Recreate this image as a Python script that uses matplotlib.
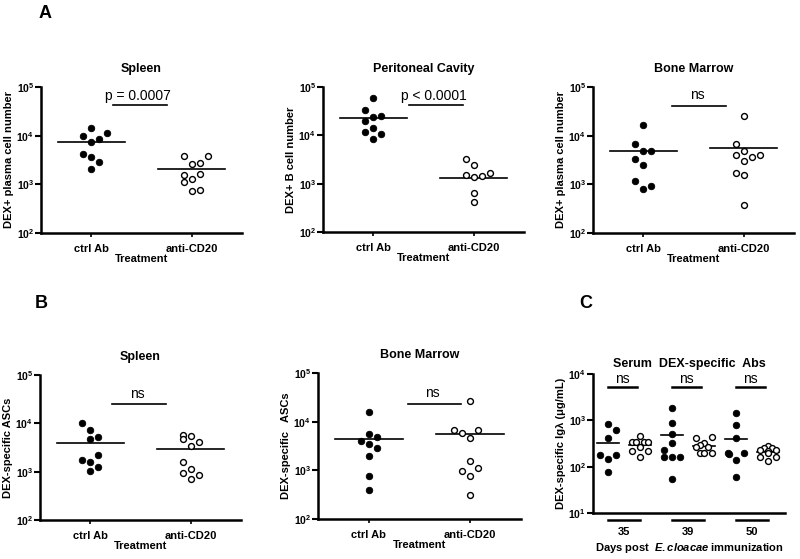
import matplotlib
matplotlib.use("Agg")
import numpy as np
import matplotlib.pyplot as plt
import matplotlib.ticker as mticker
import matplotlib.transforms as mtransforms

plt.rcParams['font.family'] = ['Liberation Sans', 'DejaVu Sans']
plt.rcParams['mathtext.fontset'] = 'custom'
plt.rcParams['mathtext.bf'] = 'Liberation Sans:bold'
plt.rcParams['mathtext.rm'] = 'Liberation Sans:bold'
plt.rcParams['mathtext.it'] = 'Liberation Sans:bold:italic'

groups = ['ctrl Ab', 'anti-CD20']

# A, spleen
a_spl_ctrl = [14400, 9700, 8700, 11200, 7500, 4300, 3700, 2900, 2100]
a_spl_ctrl_dx = [0, -1, 1, 2, 0, -1, 0, 1, 0]
a_spl_anti = [3800, 3900, 2600, 2800, 1530, 1610, 1290, 1120, 730, 780]
a_spl_anti_dx = [-1, 2, 0, 1, -1, 1, 0, -1, 0, 1]
a_spl_mean = [7400, 2040]

# A, peritoneal cavity
a_per_ctrl = [60100, 32900, 24300, 25100, 19800, 14200, 11700, 10800, 8530]
a_per_ctrl_dx = [0, -1, 0, 1, -1, 0, -1, 1, 0]
a_per_anti = [3180, 2470, 1490, 1400, 1440, 1690, 650, 410]
a_per_anti_dx = [-1, 0, -1, 0, 1, 2, 0, 0]
a_per_mean = [23200, 1290]

# A, bone marrow
a_bm_ctrl = [16900, 6730, 4740, 4820, 3340, 2510, 1190, 790, 925]
a_bm_ctrl_dx = [0, -1, 0, 1, -1, 0, -1, 0, 1]
a_bm_anti = [25100, 6730, 4890, 3920, 3570, 3980, 2950, 1690, 1560, 373]
a_bm_anti_dx = [0, -1, 0, -1, 1, 2, 0, -1, 0, 0]
a_bm_mean = [4740, 5470]

# B, spleen
b_spl_ctrl = [10000, 7280, 4740, 5210, 2250, 1710, 1590, 1250, 1020]
b_spl_ctrl_dx = [-1, 0, 0, 1, 1, -1, 0, 1, 0]
b_spl_anti = [5650, 4670, 5560, 3400, 4170, 1585, 1120, 925, 867, 705]
b_spl_anti_dx = [-1, -1, 0, 0, 1, -1, 0, -1, 1, 0]
b_spl_mean = [3980, 2900]

# B, bone marrow
b_bm_ctrl = [15800, 5660, 4920, 3940, 3480, 2920, 1940, 777, 394]
b_bm_ctrl_dx = [0, 0, 1, -1, 0, 1, 0, 0, 0]
b_bm_anti = [26600, 6850, 5950, 6850, 4620, 1580, 953, 1100, 777, 316]
b_bm_anti_dx = [0, -2, -1, 1, 0, 0, -1, 1, 0, 0]
b_bm_mean = [4480, 5660]

# C, serum
c_days = ['35', '39', '50']
c_ctrl = [[837, 620, 409, 178, 178, 148, 75],
          [1830, 865, 499, 318, 228, 165, 165, 165, 53],
          [1470, 782, 409, 200, 185, 200, 138, 60]]
c_ctrl_dx = [[0, 1, 0, -1, 1, 0, 0],
             [0, 0, 0, 0, -1, -1, 0, 1, 0],
             [0, 0, 0, -1, -0.8, 1, 0, 0]]
c_anti = [[467, 334, 334, 334, 334, 270, 218, 218, 164],
          [422, 443, 329, 290, 270, 260, 200, 200, 194],
          [280, 250, 250, 230, 225, 215, 200, 160, 160, 130]]
c_anti_dx = [[0, -1, -0.5, 0.5, 1, 0, -1, 1, 0],
             [-1, 1, 0, -0.5, 0.5, -1, -0.5, 1, 0],
             [0, -0.5, 0.5, -1, 1, 0, 0, -1, 1, 0]]
c_ctrl_mean = [318, 474, 402]
c_anti_mean = [295, 279, 209]

W, H = 800, 559
fig = plt.figure(figsize=(W / 100, H / 100), dpi=100)


def box(l, t, r, b):
    return [l / W, 1 - b / H, (r - l) / W, (b - t) / H]


def dec_fmt(v, pos):
    return r'$\mathbf{10^{%d}}$' % round(np.log10(v))


def style(ax, lo, hi):
    ax.set_yscale('log')
    ax.set_ylim(lo, hi)
    for s in ['top', 'right']:
        ax.spines[s].set_visible(False)
    for s in ['left', 'bottom']:
        ax.spines[s].set_linewidth(1.8)
    ax.yaxis.set_major_locator(mticker.LogLocator(base=10, numticks=10))
    ax.yaxis.set_minor_locator(mticker.NullLocator())
    ax.yaxis.set_major_formatter(mticker.FuncFormatter(dec_fmt))
    ax.tick_params(axis='y', length=4, width=1.5, labelsize=7.5, pad=1)
    ax.tick_params(axis='x', length=3, width=1.2, labelsize=8, pad=5)


def dot_panel(rect, ctrl, ctrl_dx, anti, anti_dx, means, title, ylabel,
              note, nx0, nx1, ny, lift):
    ax = fig.add_axes(box(*rect))
    step = 0.08
    ax.scatter([0 + d * step for d in ctrl_dx], ctrl, s=22, c='black',
               edgecolors='black', linewidths=0.6, zorder=3, clip_on=False)
    ax.scatter([1 + d * step for d in anti_dx], anti, s=18, c='white',
               edgecolors='black', linewidths=1.0, zorder=3, clip_on=False)
    for i, m in enumerate(means):
        ax.plot([i - 0.335, i + 0.335], [m, m], color='black', lw=1.2, zorder=2)
    ax.plot([nx0, nx1], [ny, ny], color='black', lw=1.2)
    ax.text((nx0 + nx1) / 2 - 0.02, ny * lift, note, ha='center', va='baseline',
            fontsize=10)
    ax.set_xlim(-0.5, 1.5)
    style(ax, 1e2, 1e5)
    ax.set_xticks([0, 1])
    ax.set_xticklabels(groups, fontweight='bold')
    ax.set_xlabel('Treatment', fontsize=8, fontweight='bold', labelpad=0)
    ax.set_ylabel(ylabel, fontsize=8, fontweight='bold', labelpad=2)
    ax.set_title(title, fontsize=9, fontweight='bold', pad=11)
    return ax


dot_panel((41, 87, 242, 233), a_spl_ctrl, a_spl_ctrl_dx, a_spl_anti, a_spl_anti_dx,
          a_spl_mean, 'Spleen', 'DEX+ plasma cell number', 'p = 0.0007',
          0.215, 0.755, 41700, 1.27)
dot_panel((323, 87, 524, 232), a_per_ctrl, a_per_ctrl_dx, a_per_anti, a_per_anti_dx,
          a_per_mean, 'Peritoneal Cavity', 'DEX+ B cell number', 'p < 0.0001',
          0.355, 0.895, 41700, 1.27)
dot_panel((593, 87, 794, 233), a_bm_ctrl, a_bm_ctrl_dx, a_bm_anti, a_bm_anti_dx,
          a_bm_mean, 'Bone Marrow', 'DEX+ plasma cell number', 'ns',
          0.285, 0.825, 40500, 1.37)
dot_panel((40, 375, 241, 520), b_spl_ctrl, b_spl_ctrl_dx, b_spl_anti, b_spl_anti_dx,
          b_spl_mean, 'Spleen', 'DEX-specific ASCs', 'ns',
          0.218, 0.752, 24700, 1.37)
dot_panel((318, 373, 521, 519), b_bm_ctrl, b_bm_ctrl_dx, b_bm_anti, b_bm_anti_dx,
          b_bm_mean, 'Bone Marrow', 'DEX-specific   ASCs', 'ns',
          0.384, 0.912, 23100, 1.37)

# panel C
ax = fig.add_axes(box(593, 374, 785, 513))
cstep = 0.25
trans = mtransforms.blended_transform_factory(ax.transData, ax.transAxes)
for g in range(3):
    xc = 2 * g
    ax.scatter([xc + d * cstep for d in c_ctrl_dx[g]], c_ctrl[g], s=22, c='black',
               edgecolors='black', linewidths=0.6, zorder=3)
    ax.scatter([xc + 1 + d * cstep for d in c_anti_dx[g]], c_anti[g], s=18,
               c='white', edgecolors='black', linewidths=1.0, zorder=3)
    ax.plot([xc - 0.35, xc + 0.35], [c_ctrl_mean[g]] * 2, color='black', lw=1.2)
    ax.plot([xc + 1 - 0.35, xc + 1 + 0.35], [c_anti_mean[g]] * 2, color='black', lw=1.2)
    ax.plot([xc, xc + 0.9], [5250, 5250], color='black', lw=1.8)
    ax.text(xc + 0.45, 5250 * 1.2, 'ns', ha='center', va='baseline', fontsize=10)
    ax.plot([xc, xc + 1], [-0.05, -0.05], color='black', lw=1.8,
            transform=trans, clip_on=False)
ax.set_xlim(-0.46, 5.54)
style(ax, 1e1, 1e4)
ax.set_xticks([0.5, 2.5, 4.5])
ax.set_xticklabels(c_days, fontweight='bold')
ax.tick_params(axis='x', length=0, pad=10)
ax.set_xlabel(r'Days post  $\it{E.cloacae}$ immunization', fontsize=8,
              fontweight='bold', labelpad=3)
ax.set_ylabel('DEX-specific Ig\u03bb (\u03bcg/mL)', fontsize=8, fontweight='bold',
              labelpad=2)
ax.set_title('Serum  DEX-specific  Abs', fontsize=9, fontweight='bold', pad=5)

fig.text(45 / W, 1 - 14 / H, 'A', fontsize=13, fontweight='bold', ha='center', va='center')
fig.text(41 / W, 1 - 303 / H, 'B', fontsize=13, fontweight='bold', ha='center', va='center')
fig.text(586 / W, 1 - 303 / H, 'C', fontsize=13, fontweight='bold', ha='center', va='center')

fig.savefig('out.png', dpi=100)
